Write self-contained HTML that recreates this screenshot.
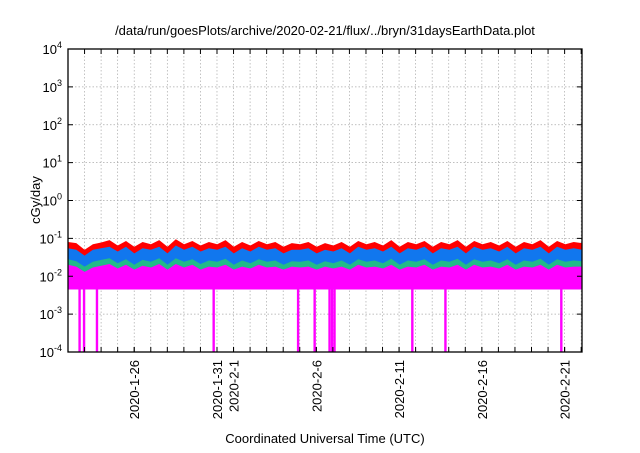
<!DOCTYPE html>
<html><head><meta charset="utf-8"><style>
body{margin:0;background:#fff;}
svg text{font-family:"Liberation Sans",sans-serif;fill:#000;}
</style></head><body>
<svg id="chart" width="640" height="448" xmlns="http://www.w3.org/2000/svg">
<rect width="640" height="448" fill="#fff"/>
<text x="325" y="35" font-size="13" text-anchor="middle">/data/run/goesPlots/archive/2020-02-21/flux/../bryn/31daysEarthData.plot</text>
<g id="grid"></g>
<g id="series"></g>
<g id="axes"></g>
<text transform="translate(40,200) rotate(-90)" font-size="13" text-anchor="middle">cGy/day</text>
<text x="325" y="443" font-size="13" text-anchor="middle">Coordinated Universal Time (UTC)</text>
</svg>
<script>
// data (half-day samples, starting 2020-01-22 00:00)
const redTop=[0.08,0.075,0.05,0.07,0.078,0.09,0.065,0.085,0.06,0.08,0.07,0.09,0.06,0.095,0.07,0.085,0.065,0.08,0.07,0.09,0.06,0.08,0.065,0.085,0.07,0.08,0.06,0.075,0.07,0.08,0.06,0.075,0.065,0.08,0.06,0.085,0.07,0.08,0.065,0.09,0.06,0.08,0.07,0.085,0.06,0.08,0.07,0.09,0.06,0.085,0.07,0.08,0.065,0.085,0.06,0.08,0.07,0.09,0.06,0.085,0.07,0.08,0.075];
const blueTop=[0.055,0.05,0.035,0.05,0.055,0.06,0.045,0.06,0.04,0.055,0.05,0.06,0.04,0.065,0.05,0.06,0.045,0.055,0.05,0.06,0.04,0.055,0.045,0.06,0.05,0.055,0.04,0.05,0.05,0.055,0.04,0.05,0.045,0.055,0.04,0.06,0.05,0.055,0.045,0.06,0.04,0.055,0.05,0.06,0.04,0.055,0.05,0.06,0.04,0.06,0.05,0.055,0.045,0.06,0.04,0.055,0.05,0.06,0.04,0.06,0.05,0.055,0.05];
const greenTop=[0.028,0.025,0.018,0.024,0.027,0.03,0.022,0.028,0.02,0.027,0.024,0.03,0.02,0.03,0.024,0.028,0.021,0.026,0.024,0.029,0.02,0.026,0.022,0.028,0.024,0.026,0.02,0.025,0.024,0.026,0.02,0.025,0.022,0.026,0.02,0.028,0.024,0.026,0.022,0.029,0.02,0.026,0.024,0.028,0.02,0.026,0.024,0.029,0.02,0.028,0.024,0.026,0.022,0.028,0.02,0.026,0.024,0.029,0.02,0.028,0.024,0.026,0.025];
const magTop=[0.02,0.018,0.013,0.017,0.019,0.021,0.016,0.02,0.015,0.019,0.017,0.021,0.015,0.021,0.017,0.02,0.015,0.018,0.017,0.02,0.015,0.018,0.016,0.02,0.017,0.018,0.015,0.018,0.017,0.018,0.015,0.018,0.016,0.018,0.015,0.02,0.017,0.018,0.016,0.02,0.015,0.018,0.017,0.02,0.015,0.018,0.017,0.02,0.015,0.02,0.017,0.018,0.016,0.02,0.015,0.018,0.017,0.02,0.015,0.02,0.017,0.018,0.018];
const magBottom=0.0045;
const dropDays=[0.7,0.97,1.75,8.8,13.9,14.9,15.8,15.95,16.1,20.8,22.8,29.8];
const tickDays=[4,9,10,15,20,25,30];
const tickLabels=["2020-1-26","2020-1-31","2020-2-1","2020-2-6","2020-2-11","2020-2-16","2020-2-21"];
const yExps=[-4,-3,-2,-1,0,1,2,3,4];
const dayMin=0, dayMax=31.05;

const L=68,R=582,T=49,B=352,NS="http://www.w3.org/2000/svg";
const xs=d=>L+(d-dayMin)/(dayMax-dayMin)*(R-L);
const ys=v=>B-(Math.log10(v)+4)/8*(B-T);
function mk(tag,attrs,parent){const e=document.createElementNS(NS,tag);for(const k in attrs)e.setAttribute(k,attrs[k]);parent.appendChild(e);return e;}
const grid=document.getElementById('grid'),series=document.getElementById('series'),axes=document.getElementById('axes');
for(let d=1;d<=31;d++){const l=mk('line',{x1:xs(d),x2:xs(d),y1:T,y2:B,stroke:'#aaa','stroke-width':0.7,'stroke-dasharray':'1.5,2'},grid);

}
yExps.forEach(e=>{const y=ys(Math.pow(10,e));
if(e>-4&&e<4){const l=mk('line',{x1:L,x2:R,y1:y,y2:y,stroke:'#aaa','stroke-width':0.7,'stroke-dasharray':'1.5,2'},grid);

}
const t=mk('text',{x:L-6,y:y+5,'font-size':13,'text-anchor':'end'},axes);


t.textContent='10';const s=mk('tspan',{dy:-6,'font-size':9},t);s.textContent=String(e);
mk('line',{x1:L,x2:L+5,y1:y,y2:y,stroke:'#000'},axes);mk('line',{x1:R,x2:R-5,y1:y,y2:y,stroke:'#000'},axes);});
function area(vals,color,name){const n=vals.length,step=(dayMax-dayMin)/(n-1);let p='';
vals.forEach((v,i)=>{p+=(i?'L':'M')+xs(i*step).toFixed(1)+','+ys(v).toFixed(1);});
p+='L'+xs(dayMax)+','+ys(magBottom)+'L'+xs(0)+','+ys(magBottom)+'Z';
const e=mk('path',{d:p,fill:color},series);

}
area(redTop,'#ff0000','series-red');
area(blueTop,'#1177ee','series-blue');
area(greenTop,'#22bb88','series-green');
area(magTop,'#ff00ff','series-magenta');
// magenta lower fringe
area(magTop.map(()=>0.006),'#ff00ff','series-magenta-low');
dropDays.forEach(d=>{const r=mk('rect',{x:xs(d)-1.2,y:ys(magBottom),width:2.4,height:B-ys(magBottom),fill:'#ff00ff'},series);

});
tickDays.forEach((d,i)=>{const x=xs(d);
mk('line',{x1:x,x2:x,y1:B,y2:B-5,stroke:'#000'},axes);
const t=mk('text',{transform:`translate(${x+5},${B+8}) rotate(-90)`,'font-size':13,'text-anchor':'end'},axes);


t.textContent=tickLabels[i];});
for(let d=1;d<=31;d++){mk('line',{x1:xs(d),x2:xs(d),y1:T,y2:T+5,stroke:'#000'},axes);mk('line',{x1:xs(d),x2:xs(d),y1:B,y2:B-5,stroke:'#000'},axes);}
const fr=mk('rect',{x:L,y:T,width:R-L,height:B-T,fill:'none',stroke:'#000','stroke-width':1.3},axes);


</script>
</body></html>
